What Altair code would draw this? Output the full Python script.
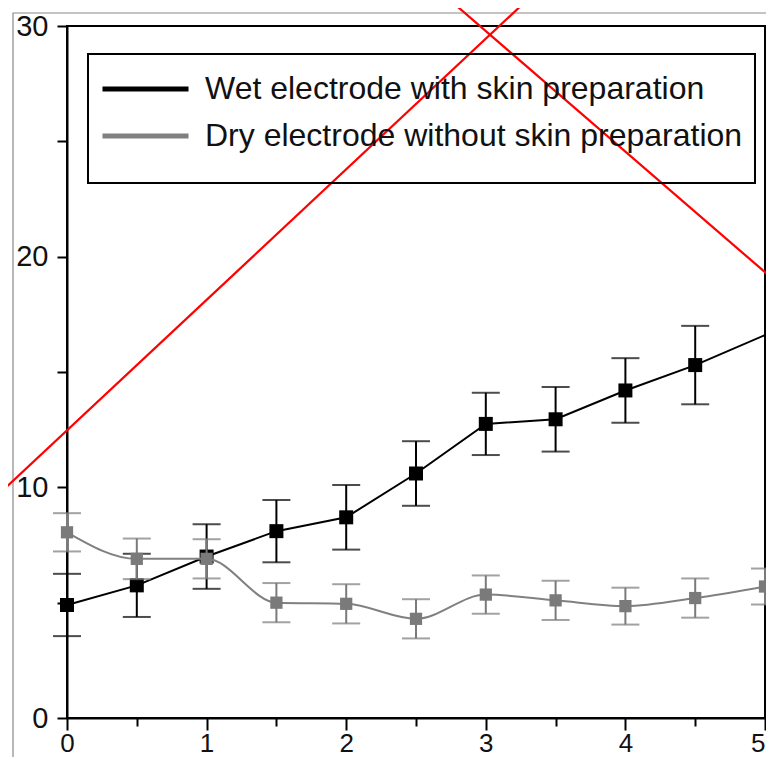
import altair as alt
import pandas as pd

# ---- data ----
x_vals = [0, 0.5, 1, 1.5, 2, 2.5, 3, 3.5, 4, 4.5, 5]
wet_mean = [4.9, 5.75, 7.0, 8.1, 8.7, 10.6, 12.75, 12.95, 14.2, 15.3, 16.6]
wet_err = [1.35, 1.37, 1.4, 1.35, 1.4, 1.4, 1.35, 1.4, 1.4, 1.7, None]
dry_mean = [8.05, 6.9, 6.9, 5.0, 4.95, 4.3, 5.35, 5.1, 4.85, 5.2, 5.7]
dry_err = [0.83, 0.88, 0.85, 0.85, 0.85, 0.85, 0.83, 0.85, 0.8, 0.85, 0.78]

series_names = ["Wet electrode with skin preparation",
                "Dry electrode without skin preparation"]
series_colors = ["#000000", "#808080"]

# red cross-out overlay (in data units)
red_x = [-0.48, 3.295, 2.7436, 5.0645]
red_y = [9.75, 31.12, 31.12, 18.99]
red_seg = ["a", "a", "b", "b"]

x_ticks = x_vals
y_ticks = [0, 5, 10, 15, 20, 25, 30]

FONT = "Liberation Sans"

rows = []
for xi, m, e in zip(x_vals, wet_mean, wet_err):
    rows.append({"x": xi, "y": m, "series": series_names[0],
                 "lo": None if e is None else m - e,
                 "hi": None if e is None else m + e,
                 "mark": e is not None})
for xi, m, e in zip(x_vals, dry_mean, dry_err):
    rows.append({"x": xi, "y": m, "series": series_names[1],
                 "lo": m - e, "hi": m + e, "mark": True})
df = pd.DataFrame(rows)
red_df = pd.DataFrame({"x": red_x, "y": red_y, "seg": red_seg})

xscale = alt.Scale(domain=[0, 5], nice=False, zero=False)
yscale = alt.Scale(domain=[0, 30], nice=False)

x_axis = alt.Axis(
    values=x_ticks,
    labelExpr="datum.value % 1 === 0 ? format(datum.value, 'd') : ''",
    tickSize={"condition": {"test": "datum.value % 1 === 0", "value": 12}, "value": 8},
    labelAlign={"condition": {"test": "datum.value >= 5", "value": "right"}, "value": "center"},
    tickWidth=2, tickColor="black", domainColor="black", domainWidth=2,
    labelFontSize=26, labelFont=FONT, labelColor="#111", labelPadding=0,
    labelFlush=False, labelOverlap=False, grid=False, title=None,
)
y_axis = alt.Axis(
    values=y_ticks,
    labelExpr="datum.value % 10 === 0 ? format(datum.value, 'd') : ''",
    tickSize=10, tickWidth=2, tickColor="black", domainColor="black", domainWidth=2,
    labelFontSize=29, labelFont=FONT, labelColor="#111", labelPadding=9,
    labelFlush=False, labelOverlap=False, grid=False, title=None,
)

X = alt.X("x:Q", scale=xscale, axis=x_axis)
Y = alt.Y("y:Q", scale=yscale, axis=y_axis)
color = alt.Color(
    "series:N",
    scale=alt.Scale(domain=series_names, range=series_colors),
    legend=alt.Legend(title=" ", titleOrient="bottom", titleFontSize=1, titlePadding=11,
                      orient="none", legendX=21, legendY=28, symbolType="stroke"),
)

base = alt.Chart(df)
wet = base.transform_filter(alt.datum.series == series_names[0])
dry = base.transform_filter(alt.datum.series == series_names[1])

frame = alt.Chart(alt.Data(values=[{"a": 1}])).mark_rect(
    fillOpacity=0, stroke="#8a8a8a", strokeWidth=1.2
).encode(x=alt.value(-54), x2=alt.value(760), y=alt.value(-13), y2=alt.value(760))

def layers(sub, col, msize, interp):
    line = sub.mark_line(strokeWidth=2, interpolate=interp).encode(x=X, y=Y, color=color)
    withm = sub.transform_filter("datum.mark")
    rule = withm.mark_rule(strokeWidth=2, color=col).encode(
        x=X, y=alt.Y("lo:Q", scale=yscale), y2="hi:Q")
    cap_lo = withm.mark_tick(orient="horizontal", size=28, thickness=2, color=col).encode(
        x=X, y=alt.Y("lo:Q", scale=yscale))
    cap_hi = withm.mark_tick(orient="horizontal", size=28, thickness=2, color=col).encode(
        x=X, y=alt.Y("hi:Q", scale=yscale))
    pts = withm.mark_square(size=msize, opacity=1, color=col).encode(x=X, y=Y)
    return [line, rule, cap_lo, cap_hi, pts]

red = alt.Chart(red_df).mark_line(color="#ff0000", strokeWidth=2.2).encode(
    x=alt.X("x:Q", scale=xscale), y=alt.Y("y:Q", scale=yscale), detail="seg:N")

chart = alt.layer(
    frame,
    *layers(wet, "#000000", 196, "linear"),
    *layers(dry, "#7a7a7a", 150, "monotone"),
    red,
).properties(
    width=698, height=692,
    autosize=alt.AutoSizeParams(type="none"),
    padding={"left": 59, "top": 18, "right": 1, "bottom": 39},
    background="white",
).configure_view(
    stroke="black", strokeWidth=2
).configure_legend(
    padding=12, rowPadding=1, clipHeight=46,
    symbolSize=7396, symbolStrokeWidth=5,
    labelFontSize=32, labelFont=FONT, labelColor="#111",
    labelOffset=14, labelLimit=0,
    strokeColor="black", strokeWidth=2,
)

chart.save("out.html", embed_options={"renderer": "svg", "actions": False})
